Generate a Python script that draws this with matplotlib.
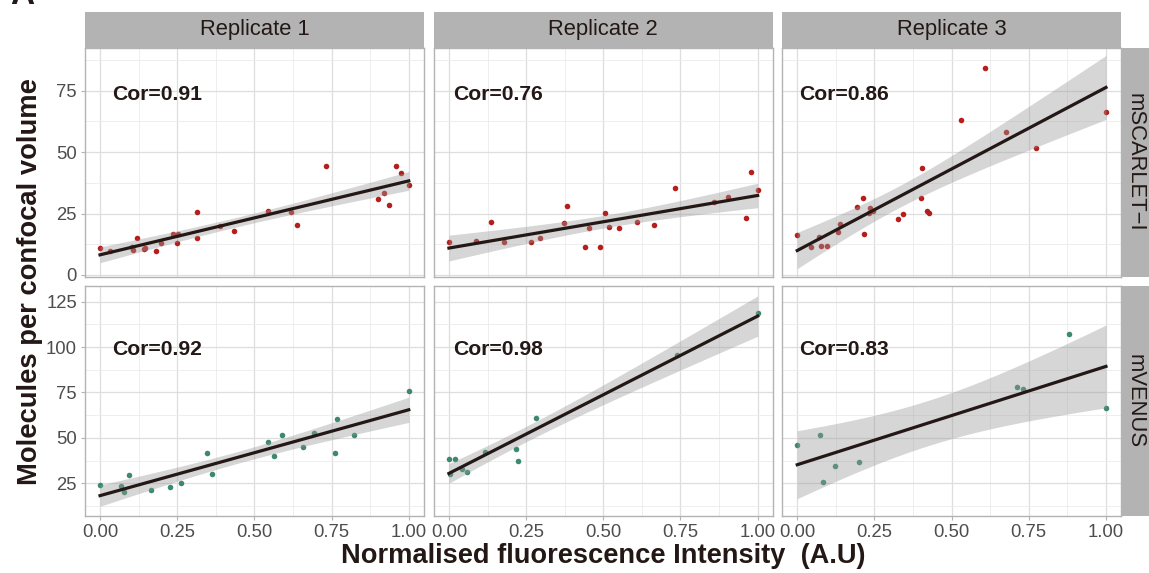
import numpy as np
import matplotlib.pyplot as plt

plt.rcParams["font.family"] = ["Liberation Sans", "DejaVu Sans"]

replicates = ["Replicate 1", "Replicate 2", "Replicate 3"]
proteins = ["mSCARLET\u2212I", "mVENUS"]
cor_labels = [["Cor=0.91", "Cor=0.76", "Cor=0.86"],
              ["Cor=0.92", "Cor=0.98", "Cor=0.83"]]

# mSCARLET-I, molecules per confocal volume vs normalised intensity
scarlet_x1 = [0.0, 0.032, 0.103, 0.108, 0.121, 0.143, 0.145, 0.180, 0.197, 0.237,
              0.251, 0.249, 0.313, 0.313, 0.390, 0.434, 0.544, 0.617, 0.638, 0.732,
              0.900, 0.921, 0.936, 0.958, 0.974, 1.0]
scarlet_y1 = [11.0, 9.9, 11.2, 10.2, 14.9, 10.4, 10.9, 9.8, 13.0, 16.7,
              16.7, 13.0, 25.6, 15.1, 19.9, 18.0, 25.9, 25.6, 20.2, 44.5,
              30.9, 33.2, 28.3, 44.2, 41.6, 36.6]
scarlet_x2 = [0.0, 0.089, 0.137, 0.177, 0.267, 0.294, 0.374, 0.382, 0.440, 0.455,
              0.489, 0.506, 0.518, 0.550, 0.608, 0.665, 0.732, 0.860, 0.903, 0.962,
              0.977, 1.0]
scarlet_y2 = [13.3, 14.0, 21.7, 13.3, 13.6, 15.1, 21.3, 28.1, 11.3, 19.1,
              11.5, 25.4, 19.7, 19.0, 21.4, 20.5, 35.4, 29.6, 31.7, 23.2,
              41.9, 34.6]
scarlet_x3 = [0.0, 0.045, 0.070, 0.077, 0.095, 0.133, 0.140, 0.195, 0.212, 0.217,
              0.233, 0.235, 0.246, 0.328, 0.341, 0.403, 0.401, 0.419, 0.428, 0.531,
              0.607, 0.675, 0.772, 1.0]
scarlet_y3 = [16.1, 11.5, 15.6, 11.8, 11.9, 17.6, 20.8, 27.5, 31.3, 16.7,
              25.2, 27.4, 26.2, 22.7, 25.0, 43.7, 31.2, 26.2, 25.4, 62.9,
              84.2, 58.2, 51.5, 66.2]

# mVENUS
venus_x1 = [0.0, 0.068, 0.077, 0.094, 0.164, 0.227, 0.261, 0.347, 0.362, 0.543,
            0.563, 0.590, 0.658, 0.693, 0.762, 0.768, 0.823, 1.0]
venus_y1 = [24.1, 23.5, 20.4, 29.8, 21.1, 22.8, 25.0, 41.7, 30.1, 47.9,
            40.2, 51.6, 45.2, 52.5, 41.7, 60.6, 51.6, 76.0]
venus_x2 = [0.0, 0.002, 0.021, 0.043, 0.060, 0.116, 0.218, 0.225, 0.283, 0.740, 1.0]
venus_y2 = [38.2, 30.1, 38.2, 33.1, 31.1, 42.4, 43.9, 37.3, 61.0, 95.5, 118.6]
venus_x3 = [0.0, 0.073, 0.085, 0.122, 0.201, 0.713, 0.732, 0.880, 1.0]
venus_y3 = [45.9, 51.6, 25.7, 34.5, 36.7, 78.2, 76.7, 107.2, 66.5]

panels = [[(scarlet_x1, scarlet_y1), (scarlet_x2, scarlet_y2), (scarlet_x3, scarlet_y3)],
          [(venus_x1, venus_y1), (venus_x2, venus_y2), (venus_x3, venus_y3)]]
point_colors = ["#b41f1c", "#3b8a6e"]


def t975(df):
    # Cornish-Fisher expansion of the Student t 97.5% quantile
    z = 1.959964
    g1 = (z**3 + z) / 4
    g2 = (5*z**5 + 16*z**3 + 3*z) / 96
    g3 = (3*z**7 + 19*z**5 + 17*z**3 - 15*z) / 384
    return z + g1/df + g2/df**2 + g3/df**3


def lm_fit(x, y, xs):
    x = np.asarray(x)
    y = np.asarray(y)
    n = len(x)
    slope, intercept = np.polyfit(x, y, 1)
    resid = y - (intercept + slope*x)
    s = np.sqrt(np.sum(resid**2) / (n - 2))
    sxx = np.sum((x - x.mean())**2)
    fit = intercept + slope*xs
    se = s*np.sqrt(1/n + (xs - x.mean())**2/sxx)
    return fit, fit - t975(n - 2)*se, fit + t975(n - 2)*se


W, H = 1149, 573
fig = plt.figure(figsize=(W/100, H/100), dpi=100)
text_col = "#231815"

lefts = [84.6, 433.5, 781.8]
width = 339.6
tops = [47.7, 286.0]
heights = [229.0, 230.0]
ylims = [(-0.7, 92.5), (7.0, 133.6)]
yticks = [[0, 25, 50, 75], [25, 50, 75, 100, 125]]
yminor = [[12.5, 37.5, 62.5, 87.5], [12.5, 37.5, 62.5, 87.5, 112.5]]
label_x = [0.082, 0.057, 0.052]
label_y = [0.795, 0.722]

for r in range(2):
    for c in range(3):
        ax = fig.add_axes([lefts[c]/W, 1 - (tops[r] + heights[r])/H,
                           width/W, heights[r]/H])
        x, y = panels[r][c]
        xs = np.linspace(min(x), max(x), 80)
        fit, lo, hi = lm_fit(x, y, xs)
        ax.scatter(x, y, s=16, color=point_colors[r], linewidths=0, zorder=2)
        ax.fill_between(xs, lo, hi, color="#999999", alpha=0.4, linewidth=0, zorder=3)
        ax.plot(xs, fit, color=text_col, linewidth=2.3, zorder=4)
        ax.text(label_x[c], label_y[r], cor_labels[r][c], transform=ax.transAxes,
                fontsize=15.2, fontweight="bold", color=text_col, va="center", ha="left")

        ax.set_xlim(-0.05, 1.05)
        ax.set_ylim(*ylims[r])
        ax.set_xticks([0, 0.25, 0.5, 0.75, 1.0])
        ax.set_xticks([0.125, 0.375, 0.625, 0.875], minor=True)
        ax.set_yticks(yticks[r])
        ax.set_yticks(yminor[r], minor=True)
        ax.grid(which="major", color="#dedede", linewidth=0.9, zorder=0)
        ax.grid(which="minor", color="#ebebeb", linewidth=0.6, zorder=0)
        ax.set_axisbelow(True)
        for sp in ax.spines.values():
            sp.set_color("#b3b3b3")
            sp.set_linewidth(1.0)
        ax.tick_params(which="major", length=3, width=0.8, color="#b3b3b3",
                       labelsize=13.3, labelcolor="#4d4d4d", pad=2.5)
        ax.tick_params(which="minor", length=0)
        if r == 1:
            ax.set_xticklabels(["0.00", "0.25", "0.50", "0.75", "1.00"])
        else:
            ax.tick_params(axis="x", which="major", length=0, labelbottom=False)
        if c != 0:
            ax.tick_params(axis="y", which="major", length=0, labelleft=False)

        if r == 0:
            strip = fig.add_axes([lefts[c]/W, 1 - tops[0]/H, width/W, 35.4/H])
            strip.set_facecolor("#b3b3b3")
            strip.set_xticks([])
            strip.set_yticks([])
            for sp in strip.spines.values():
                sp.set_visible(False)
            strip.text(0.5, 0.5, replicates[c], ha="center", va="center",
                       fontsize=15.8, color=text_col, transform=strip.transAxes)
    side = fig.add_axes([1121.7/W, 1 - (tops[r] + heights[r])/H, 30/W, heights[r]/H])
    side.set_facecolor("#b3b3b3")
    side.set_xticks([])
    side.set_yticks([])
    for sp in side.spines.values():
        sp.set_visible(False)
    side.text(0.45, 0.5, proteins[r], ha="center", va="center", rotation=-90,
              fontsize=15.8, color=text_col, transform=side.transAxes)

fig.text(30/W, 1 - 282/H, "Molecules per confocal volume", rotation=90,
         ha="center", va="center", fontsize=19.7, fontweight="bold", color=text_col)
fig.text(603/W, 1 - 556/H, "Normalised fluorescence Intensity  (A.U)",
         ha="center", va="center", fontsize=19.6, fontweight="bold", color=text_col)
# panel letter sits at the very top edge of the figure
fig.text(10/W, 1 - 4/H, "A", ha="left", va="baseline", fontsize=24,
         fontweight="bold", color=text_col)

fig.savefig("out.png", dpi=100)
